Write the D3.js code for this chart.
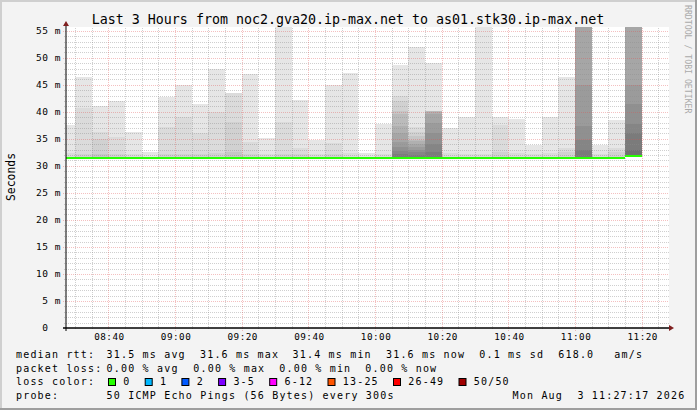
<!DOCTYPE html>
<html><head><meta charset="utf-8">
<script src="https://cdn.jsdelivr.net/npm/d3@7"></script>
<style>
html,body{margin:0;padding:0;background:#f3f3f3;overflow:hidden;}
svg{display:block;}
text{font-family:"DejaVu Sans Mono",monospace;white-space:pre;}
</style></head><body><svg id="c" width="697" height="410"></svg>
<script>
// ---------- data ----------
const title = "Last 3 Hours from noc2.gva20.ip-max.net to as01.stk30.ip-max.net";
const yAxisTitle = "Seconds";
const watermark = "RRDTOOL / TOBI OETIKER";
const rangeStart = "2026-08-03 08:27:17";
const rangeEnd = "2026-08-03 11:27:17";
const intervalStarts = ["08:25","08:30","08:35","08:40","08:45","08:50","08:55","09:00","09:05","09:10",
  "09:15","09:20","09:25","09:30","09:35","09:40","09:45","09:50","09:55","10:00",
  "10:05","10:10","10:15","10:20","10:25","10:30","10:35","10:40","10:45","10:50",
  "10:55","11:00","11:05","11:10","11:15"];
// lowest ping per 5-minute interval (ms)
const minRtt = [31.4,31.4,31.4,31.4,31.4,31.4,31.4,31.4,31.4,31.4,
  31.4,31.4,31.4,31.4,31.4,31.4,31.4,31.4,31.4,31.4,
  31.4,31.4,31.4,31.4,31.4,31.4,31.4,31.4,31.4,31.4,
  31.4,31.4,31.4,31.4,31.6];
// median rtt per interval (ms)
const medianRtt = [31.5,31.5,31.5,31.5,31.5,31.5,31.5,31.5,31.5,31.5,
  31.5,31.5,31.5,31.5,31.5,31.5,31.5,31.5,31.5,31.5,
  31.5,31.5,31.5,31.5,31.5,31.5,31.5,31.5,31.5,31.5,
  31.5,31.5,31.5,31.5,31.75];
// lost pings per interval (of 50)
const lostPings = [0,0,0,0,0,0,0,0,0,0,0,0,0,0,0,0,0,0,0,0,0,0,0,0,0,0,0,0,0,0,0,0,0,0,0];
// smoke: upper ping values of nested bands per interval (ms, outermost first)
const smokeTops = [
  [37.6,32.3],
  [46.4,40.7,32.2],
  [41.1,36.2,35.0,32.2],
  [42.0,35.4,32.2],
  [36.2,32.2],
  [32.6],
  [42.8,37.1,32.2],
  [44.9,39.1,32.2],
  [41.5,36.0,32.2],
  [48.0,40.0,32.3],
  [43.5,43.5,38.2,32.5],
  [46.9,34.5,32.2],
  [35.1,32.2],
  [56.5,38.2,32.2],
  [42.2,33.3,32.2],
  [34.8,32.2],
  [44.9,34.2,32.2],
  [47.1,32.3],
  [32.3],
  [37.8,32.2],
  [48.7,43.0,42.0,40.1,39.5,37.3,36.0,34.5,33.5,32.8,32.2],
  [51.9,37.1,36.3,35.5,34.8,34.6,34.0,33.5,33.0,32.5,32.0],
  [49.0,40.2,40.2,40.2,40.1,40.0,39.6,38.0,36.0,34.0,32.5],
  [37.0,32.3],
  [39.1,32.2],
  [56.5,32.2],
  [39.1,37.5,32.5],
  [38.7,32.3],
  [33.8,32.2],
  [39.1,32.3],
  [46.5,33.3,32.5],
  [57,57,57,57,57,57,57,45.0,37.3,34.8,33.0],
  [33.8,32.2],
  [38.5,33.3,32.5],
  [57,57,57,57,57,57,57,45.0,41.5,37.8,36.0,33.0]
];
const yTickValues = [0,5,10,15,20,25,30,35,40,45,50,55];
const yTickLabels = [" 0  "," 5 m","10 m","15 m","20 m","25 m","30 m","35 m","40 m","45 m","50 m","55 m"];
const xTickLabels = ["08:40","09:00","09:20","09:40","10:00","10:20","10:40","11:00","11:20"];
const lossLabels = ["0","1","2","3-5","6-12","13-25","26-49","50/50"];
const lossThresholds = [0,1,2,3,6,13,26,50];
const lossColors = ["#26ff00","#00b8ff","#0059ff","#7e00ff","#ff00ff","#ff5500","#ff0000","#a10000"];
const rttLabel = "median rtt:";
const rttStats = ["31.5 ms avg","31.6 ms max","31.4 ms min","31.6 ms now","0.1 ms sd","618.0","am/s"];
const lossLabel = "packet loss:";
const lossStats = ["0.00 % avg","0.00 % max","0.00 % min","0.00 % now"];
const colorLabel = "loss color:";
const probeLabel = "probe:";
const probeText = "50 ICMP Echo Pings (56 Bytes) every 300s";
const stampText = "Mon Aug  3 11:27:17 2026";

// ---------- drawing ----------
const svg = d3.select("#c");
const W = 697, H = 410;
const parse = d3.timeParse("%Y-%m-%d %H:%M:%S");
const t0 = parse(rangeStart), t1 = parse(rangeEnd);
const day = rangeStart.slice(0, 11);
const X0 = 66, X1 = 666, XC = 669, Y0 = 328, YT = 28;
const x = d3.scaleTime().domain([t0, t1]).range([X0, X1]);
const y = d3.scaleLinear().domain([0, 55.5]).range([Y0, YT]);

// frame
svg.append("rect").attr("width", W).attr("height", H).attr("fill", "#f3f3f3");
svg.append("rect").attr("x", 0).attr("y", 0).attr("width", W).attr("height", 2).attr("fill", "#cfcfcf");
svg.append("rect").attr("x", 0).attr("y", 0).attr("width", 2).attr("height", H).attr("fill", "#cfcfcf");
svg.append("rect").attr("x", 0).attr("y", H - 2).attr("width", W).attr("height", 2).attr("fill", "#9e9e9e");
svg.append("rect").attr("x", W - 2).attr("y", 0).attr("width", 2).attr("height", H).attr("fill", "#9e9e9e");

// canvas
svg.append("rect").attr("x", X0).attr("y", 27).attr("width", XC - X0).attr("height", Y0 - 27).attr("fill", "#ffffff");

svg.append("clipPath").attr("id", "plotclip").append("rect")
  .attr("x", X0).attr("y", 27).attr("width", XC - X0).attr("height", Y0 - 27);

const shade = d3.scaleLinear().domain([0, 11]).range(["#e6e6e6", "#707070"]);

const intervals = intervalStarts.map((s, i) => {
  const st = parse(day + s + ":00");
  const en = d3.timeMinute.offset(st, 5);
  return {i, xa: Math.round(Math.max(x(st), X0)), xb: Math.round(x(en)), min: minRtt[i], med: medianRtt[i], tops: smokeTops[i], lost: lostPings[i]};
});

const gSmoke = svg.append("g").attr("clip-path", "url(#plotclip)").attr("shape-rendering", "crispEdges");
intervals.forEach(d => {
  d.tops.forEach((t, k) => {
    gSmoke.append("rect")
      .attr("x", d.xa).attr("width", d.xb - d.xa)
      .attr("y", Math.round(y(t))).attr("height", Math.round(y(d.min)) - Math.round(y(t)))
      .attr("fill", shade(k));
  });
});

// grid
const gGrid = svg.append("g").attr("shape-rendering", "crispEdges");
const minorCol = "rgba(140,140,140,0.42)", majorCol = "rgba(225,80,80,0.36)";
y.ticks(55).filter(v => v % 5 !== 0 && v <= 55).forEach(v => {
  const yy = Math.round(y(v)) + 0.5;
  gGrid.append("line").attr("x1", X0 - 2).attr("x2", XC).attr("y1", yy).attr("y2", yy)
    .attr("stroke", minorCol).attr("stroke-dasharray", "1,1");
});
yTickValues.filter(v => v > 0).forEach(v => {
  const yy = Math.round(y(v)) + 0.5;
  gGrid.append("line").attr("x1", X0 - 3).attr("x2", XC).attr("y1", yy).attr("y2", yy)
    .attr("stroke", majorCol).attr("stroke-dasharray", "1,1");
});
const majorTimes = xTickLabels.map(s => parse(day + s + ":00"));
d3.timeMinute.every(5).range(t0, t1).filter(t => t.getMinutes() % 20 !== 0).forEach(t => {
  const xx = Math.round(x(t)) + 0.5;
  gGrid.append("line").attr("x1", xx).attr("x2", xx).attr("y1", YT).attr("y2", Y0 + 2)
    .attr("stroke", minorCol).attr("stroke-dasharray", "1,1");
});
majorTimes.forEach(t => {
  const xx = Math.round(x(t)) + 0.5;
  gGrid.append("line").attr("x1", xx).attr("x2", xx).attr("y1", YT).attr("y2", Y0 + 3)
    .attr("stroke", majorCol).attr("stroke-dasharray", "1,1");
});

// median line, coloured by loss
const lossColor = n => { let c = lossColors[0]; lossThresholds.forEach((th, k) => { if (n >= th) c = lossColors[k]; }); return c; };
const gMed = svg.append("g").attr("shape-rendering", "crispEdges");
intervals.forEach(d => {
  const ym = y(d.med);
  gMed.append("rect").attr("x", d.xa).attr("width", d.xb - d.xa)
    .attr("y", Math.round(ym - 1)).attr("height", 2).attr("fill", lossColor(d.lost));
});

// axes
svg.append("line").attr("x1", X0).attr("x2", X0).attr("y1", 26).attr("y2", Y0 + 3)
  .attr("stroke", "#000").attr("stroke-width", 1);
svg.append("line").attr("x1", X0 - 3).attr("x2", XC + 1).attr("y1", Y0).attr("y2", Y0)
  .attr("stroke", "#000").attr("stroke-width", 1.6);
svg.append("path").attr("d", `M${X0 - 3},26 L${X0 + 3},26 L${X0},21 Z`).attr("fill", "#7f1f1f");
svg.append("path").attr("d", `M${XC},${Y0 - 3} L${XC},${Y0 + 3} L${XC + 5},${Y0} Z`).attr("fill", "#7f1f1f");

// y labels
svg.append("g").selectAll("text").data(yTickValues).join("text")
  .attr("x", 61).attr("y", v => y(v)).attr("dy", "0.36em")
  .attr("text-anchor", "end").attr("xml:space", "preserve")
  .style("font-size", "9.5px").style("letter-spacing", "0.55px").attr("fill", "#000")
  .text((v, i) => yTickLabels[i]);

// x labels
svg.append("g").selectAll("text").data(majorTimes).join("text")
  .attr("x", t => x(t) + 1).attr("y", 340).attr("text-anchor", "middle")
  .style("font-size", "9.3px").style("letter-spacing", "0.5px").attr("fill", "#000")
  .text((t, i) => xTickLabels[i]);

// title
svg.append("text").attr("x", 348).attr("y", 24).attr("text-anchor", "middle")
  .style("font-size", "13.3px").attr("fill", "#000").text(title);

// y axis title
svg.append("text").attr("transform", "translate(15,177) rotate(-90)").attr("text-anchor", "middle")
  .style("font-size", "11.4px").attr("fill", "#000").text(yAxisTitle);

// watermark
svg.append("text").attr("transform", "translate(685,5) rotate(90)").attr("text-anchor", "start")
  .style("font-size", "8.2px").attr("fill", "#aaaaaa").text(watermark);

// legend
const leg = svg.append("g").style("font-size", "10px").style("letter-spacing", "1.18px").attr("fill", "#000");
const L1 = 358, L2 = 371.7, L3 = 385.4, L4 = 399.1;
const put = (tx, xx, yy) => leg.append("text").attr("x", xx).attr("y", yy).attr("xml:space", "preserve").text(tx);
put(rttLabel, 16, L1);
const rttX = [106.6, 200, 292.6, 386, 479.3, 558.3, 614.3];
rttStats.forEach((s, i) => put(s, rttX[i], L1));
put(lossLabel, 16, L2);
const lossX = [106.6, 193.3, 279.3, 365.3];
lossStats.forEach((s, i) => put(s, lossX[i], L2));
put(colorLabel, 16, L3);
let bx = 108.5;
lossLabels.forEach((s, i) => {
  leg.append("rect").attr("x", bx).attr("y", 378.5).attr("width", 7).attr("height", 7)
    .attr("fill", lossColors[i]).attr("stroke", "#000").attr("stroke-width", 1);
  put(s, bx + 14.8, L3);
  bx += 15.3 + s.length * 7.2 + 14.2;
});
put(probeLabel, 16, L4);
put(probeText, 106.6, L4);
put(stampText, 512.6, L4);
</script></body></html>
